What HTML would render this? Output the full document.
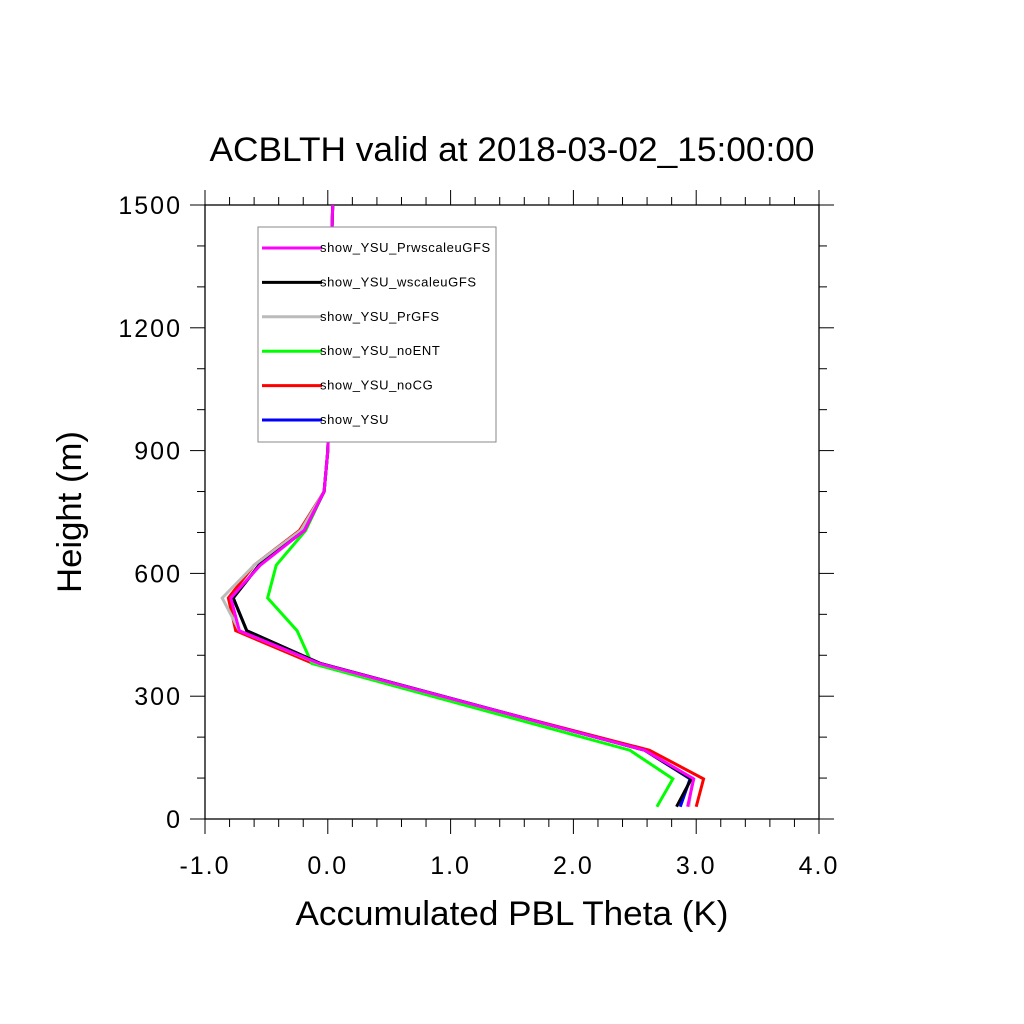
<!DOCTYPE html>
<html><head><meta charset="utf-8"><style>body{margin:0;background:#fff}svg{display:block;font-family:"Liberation Sans",sans-serif}</style></head>
<body>
<svg id="chart" width="1024" height="1024" viewBox="0 0 1024 1024">
<text x="512" y="161" font-size="34" text-anchor="middle" textLength="605" lengthAdjust="spacingAndGlyphs">ACBLTH valid at 2018-03-02_15:00:00</text>
<text x="512" y="925" font-size="34" text-anchor="middle" textLength="433" lengthAdjust="spacingAndGlyphs">Accumulated PBL Theta (K)</text>
<text transform="translate(81,512) rotate(-90)" font-size="34" text-anchor="middle" textLength="162" lengthAdjust="spacingAndGlyphs">Height (m)</text>
<rect x="205" y="205" width="614" height="614" fill="none" stroke="#000" stroke-width="1.3"/>
<g id="ticks"></g><g id="series"></g>
<g>
<rect x="258" y="227" width="238" height="215" fill="#fff" stroke="#888" stroke-width="1"/>
<g id="legend-items" font-size="13"></g>
</g>
</svg>
<script>
const heights=[30,98,168,380,460,540,620,705,800,900,1000,1100,1200,1300,1400,1500];
const seriesNames=["show_YSU_PrwscaleuGFS","show_YSU_wscaleuGFS","show_YSU_PrGFS","show_YSU_noENT","show_YSU_noCG","show_YSU"];
const seriesColors=["#ff00ff","#000000","#bbbbbb","#00ff00","#ff0000","#0000ff"];
const valsBlue=[2.87,2.95,2.58,-0.06,-0.66,-0.77,-0.56,-0.19,-0.03,0.0,0.01,0.01,0.02,0.02,0.03,0.04];
const valsRed=[3.0,3.06,2.62,-0.12,-0.75,-0.81,-0.6,-0.23,-0.03,0.0,0.01,0.01,0.02,0.02,0.03,0.04];
const valsGreen=[2.68,2.81,2.46,-0.13,-0.25,-0.49,-0.42,-0.18,-0.03,0.0,0.01,0.01,0.02,0.02,0.03,0.04];
const valsGray=[2.94,2.97,2.58,-0.08,-0.72,-0.86,-0.6,-0.22,-0.03,0.0,0.01,0.01,0.02,0.02,0.03,0.04];
const valsBlack=[2.84,2.96,2.58,-0.06,-0.66,-0.77,-0.56,-0.19,-0.03,0.0,0.01,0.01,0.02,0.02,0.03,0.04];
const valsMagenta=[2.93,2.98,2.58,-0.07,-0.72,-0.79,-0.55,-0.19,-0.03,0.0,0.01,0.01,0.02,0.02,0.03,0.04];
const xTicks=[-1,0,1,2,3,4];
const xTickLabels=["-1.0","0.0","1.0","2.0","3.0","4.0"];
const yTicks=[0,300,600,900,1200,1500];
const NS="http://www.w3.org/2000/svg";
const X=v=>205+(v+1)*614/5, Y=h=>819-h*614/1500;
function mk(t,a,p){const e=document.createElementNS(NS,t);for(const k in a)e.setAttribute(k,a[k]);p.appendChild(e);return e;}
const tg=document.getElementById('ticks');
for(let v=-1;v<=4.001;v+=0.2){const major=Math.abs(v-Math.round(v))<1e-6;const L=major?15:8;const x=X(v);
mk('line',{x1:x,x2:x,y1:819,y2:819+L,stroke:'#000','stroke-width':1},tg);mk('line',{x1:x,x2:x,y1:205,y2:205-L,stroke:'#000','stroke-width':1},tg);}
for(let h=0;h<=1500;h+=100){const major=h%300===0;const L=major?15:8;const y=Y(h);
mk('line',{x1:205,x2:205-L,y1:y,y2:y,stroke:'#000','stroke-width':1},tg);mk('line',{x1:819,x2:819+L,y1:y,y2:y,stroke:'#000','stroke-width':1},tg);}
xTicks.forEach((v,i)=>{const t=mk('text',{x:X(v),y:874,'font-size':25,'text-anchor':'middle','letter-spacing':2},tg);t.textContent=xTickLabels[i];

});
yTicks.forEach(h=>{const t=mk('text',{x:182,y:Y(h)+9,'font-size':25,'text-anchor':'end','letter-spacing':2},tg);t.textContent=h;

});
const sg=document.getElementById('series');
const allVals=[valsBlue,valsRed,valsGreen,valsGray,valsBlack,valsMagenta];
const drawColors=["#0000ff","#ff0000","#00ff00","#bbbbbb","#000000","#ff00ff"];
const drawNames=["series-ysu","series-nocg","series-noent","series-prgfs","series-wscaleugfs","series-prwscaleugfs"];
allVals.forEach((vals,i)=>{const p=mk('polyline',{points:vals.map((v,j)=>X(v)+','+Y(heights[j])).join(' '),fill:'none',stroke:drawColors[i],'stroke-width':3,'stroke-linejoin':'miter'},sg);

});
const lg=document.getElementById('legend-items');
seriesNames.forEach((n,i)=>{const y=248+i*34.4;
const g=mk('g',{},lg);


mk('line',{x1:262,x2:322,y1:y,y2:y,stroke:seriesColors[i],'stroke-width':3},g);
const t=mk('text',{x:320,y:y+4,'letter-spacing':0.6},g);t.textContent=n;});
</script>
</body></html>
